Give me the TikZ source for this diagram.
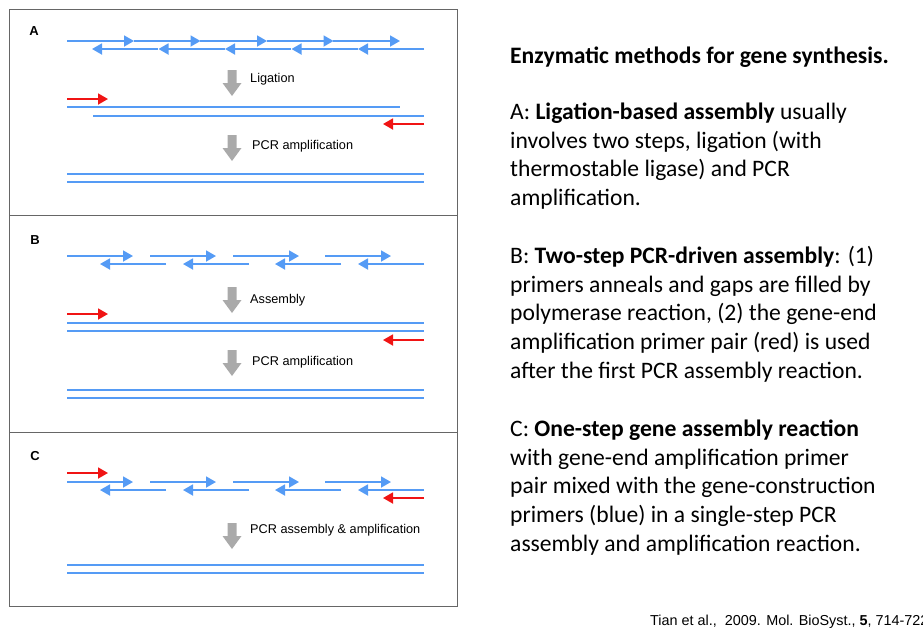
\documentclass[tikz,border=0pt]{standalone}
\usepackage{fontspec}
\setmainfont{Carlito}
\newfontfamily\arialf{Liberation Sans}
\usetikzlibrary{arrows.meta}
\definecolor{sblue}{RGB}{85,155,245}
\definecolor{sred}{RGB}{240,20,20}
\definecolor{agrey}{RGB}{170,170,170}
\tikzset{
 strand/.style={draw=sblue,line width=1.8pt},
 fw/.style={strand,-{Triangle[length=10pt,width=11pt]}},
 primer/.style={draw=sred,line width=1.8pt,-{Triangle[length=10pt,width=11pt]}},
 lbl/.style={font=\arialf\fontsize{12.7}{14}\selectfont,anchor=west,inner sep=0},
 plbl/.style={font=\arialf\bfseries\fontsize{13}{15}\selectfont,inner sep=0},
 txt/.style={anchor=west,inner sep=0,font=\fontsize{23.6}{26}\selectfont}
}
\newcommand{\greyarrow}[2]{\fill[agrey] (#1-4.5,#2) -- (#1+4.5,#2) -- (#1+4.5,#2+13) -- (#1+9.5,#2+13) -- (#1,#2+26) -- (#1-9.5,#2+13) -- (#1-4.5,#2+13) -- cycle;}
\begin{document}
\begin{tikzpicture}[x=1pt,y=-1pt]
\useasboundingbox (0,0) rectangle (923,632);
\draw[gray!80!black,line width=0.8pt] (9,9) rectangle (457,606);
\draw[gray!80!black,line width=0.8pt] (9,215) -- (457,215) (9,432) -- (457,432);
% Panel A
\node[plbl] (la) at (34,31) {A};
\foreach \a in {67,133.5,200,266.5,333}{\draw[fw] (\a,41) -- (\a+67,41);}
\foreach \a in {424,357.5,291,224.5,158}{\draw[fw] (\a,49) -- (\a-66,49);}
\greyarrow{232}{70}
\node[lbl] (l1) at (250,79) {Ligation};
\draw[primer] (67,99) -- (108,99);
\draw[strand] (67,107) -- (400,107);
\draw[strand] (93,116) -- (424,116);
\draw[primer] (424,124) -- (383,124);
\greyarrow{232}{135}
\node[lbl] (l2) at (252,146) {PCR amplification};
\draw[strand] (67,174) -- (424,174) (67,182) -- (424,182);
% Panel B
\node[plbl] (lb) at (35,240) {B};
\foreach \a/\b in {67/133,150/216,233/299,325/391}{\draw[fw] (\a,256) -- (\b,256);}
\foreach \a/\b in {166/100,249/183,341/275,424/358}{\draw[fw] (\a,264) -- (\b,264);}
\greyarrow{232}{287}
\node[lbl] (l3) at (250,300) {Assembly};
\draw[primer] (67,314) -- (108,314);
\draw[strand] (67,323) -- (424,323) (67,331) -- (424,331);
\draw[primer] (424,340) -- (383,340);
\greyarrow{232}{350}
\node[lbl] (l4) at (252,362) {PCR amplification};
\draw[strand] (67,390) -- (424,390) (67,398) -- (424,398);
% Panel C
\node[plbl] (lc) at (35,456) {C};
\draw[primer] (67,473) -- (108,473);
\foreach \a/\b in {67/133,150/216,233/299,325/391}{\draw[fw] (\a,482) -- (\b,482);}
\foreach \a/\b in {166/100,249/183,341/275,424/358}{\draw[fw] (\a,490) -- (\b,490);}
\draw[primer] (424,498) -- (383,498);
\greyarrow{232}{523}
\node[lbl] (l5) at (250,530) {PCR assembly \& amplification};
\draw[strand] (67,565) -- (424,565) (67,573) -- (424,573);
% Right text
\node[txt] (t0) at (510,57) {\bfseries Enzymatic methods for gene synthesis.};
\node[txt] (t1) at (510,113) {A: \textbf{Ligation-based assembly} usually};
\node[txt] (t2) at (510,142) {involves two steps, ligation (with};
\node[txt] (t3) at (510,170) {thermostable ligase) and PCR};
\node[txt] (t4) at (510,199) {amplification.};
\node[txt] (t5) at (510,257) {B: \textbf{Two-step PCR-driven assembly}: (1)};
\node[txt] (t6) at (510,286) {primers anneals and gaps are filled by};
\node[txt] (t7) at (510,314) {polymerase reaction, (2) the gene-end};
\node[txt] (t8) at (510,343) {amplification primer pair (red) is used};
\node[txt] (t9) at (510,372) {after the first PCR assembly reaction.};
\node[txt] (t10) at (510,430) {C: \textbf{One-step gene assembly reaction}};
\node[txt] (t11) at (510,459) {with gene-end amplification primer};
\node[txt] (t12) at (510,487) {pair mixed with the gene-construction};
\node[txt] (t13) at (510,516) {primers (blue) in a single-step PCR};
\node[txt] (t14) at (510,545) {assembly and amplification reaction.};
\begin{scope}
\clip (0,0) rectangle (923,632);
\node[anchor=west,inner sep=0,font=\arialf\fontsize{14.4}{16}\selectfont] (cit) at (650,622) {Tian et al.,~ 2009. Mol. BioSyst., \textbf{5}, 714-722};
\end{scope}
\end{tikzpicture}
\end{document}
